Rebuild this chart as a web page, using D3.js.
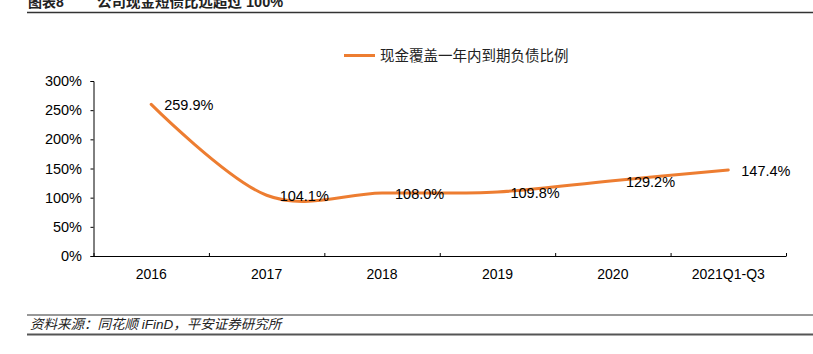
<!DOCTYPE html>
<html><head><meta charset="utf-8">
<script src="https://cdn.jsdelivr.net/npm/d3@7"></script>
<style>
html,body{margin:0;padding:0;background:#fff;}
svg{display:block;}
</style></head>
<body>
<svg id="c" width="813" height="354"></svg>
<script>
const categories = ["2016","2017","2018","2019","2020","2021Q1-Q3"];
const values = [259.9, 104.1, 108.0, 109.8, 129.2, 147.4];
const valueLabels = ["259.9%","104.1%","108.0%","109.8%","129.2%","147.4%"];
const yTicks = [0, 50, 100, 150, 200, 250, 300];
const seriesName = "现金覆盖一年内到期负债比例";
const titleNo = "图表8";
const titleText = "公司现金短债比远超过 100%";
const sourceText = "资料来源：同花顺 iFinD，平安证券研究所";

const svg = d3.select("#c");
const latin = "'Liberation Sans', Arial, sans-serif";
const cjk = "'Liberation Sans', 'Noto Sans CJK SC', sans-serif";
const orange = "#ED7D31";

// header (cut at the top edge as in the reference)
svg.append("text").attr("x", 28).attr("y", 6.5).attr("font-family", cjk).attr("font-weight", "bold")
  .attr("font-size", 14).attr("fill", "#222").text(titleNo);
svg.append("text").attr("x", 97).attr("y", 6.5).attr("font-family", cjk).attr("font-weight", "bold")
  .attr("font-size", 14.5).attr("fill", "#222").text(titleText);
svg.append("line").attr("x1", 27).attr("x2", 813).attr("y1", 12.5).attr("y2", 12.5)
  .attr("stroke", "#333").attr("stroke-width", 1.3);

// footer
svg.append("line").attr("x1", 27).attr("x2", 813).attr("y1", 315).attr("y2", 315)
  .attr("stroke", "#333").attr("stroke-width", 1.2);
svg.append("text").attr("x", 30).attr("y", 329).attr("font-family", cjk).attr("font-style", "italic")
  .attr("font-size", 13.5).attr("fill", "#222").text(sourceText);
svg.append("line").attr("x1", 27).attr("x2", 813).attr("y1", 334.5).attr("y2", 334.5)
  .attr("stroke", "#555").attr("stroke-width", 2);

// scales
const x = d3.scaleBand().domain(categories).range([93.5, 786]);
const y = d3.scaleLinear().domain([0, 300]).range([256, 81]);

// y axis
const yAxis = svg.append("g").attr("transform", "translate(93.5,0)")
  .call(d3.axisLeft(y).tickValues(yTicks).tickSize(3).tickPadding(8.5).tickFormat(d => d + "%"));
yAxis.select(".domain").attr("stroke", "#000").attr("stroke-width", 1);
yAxis.selectAll(".tick line").attr("stroke", "#000");
yAxis.selectAll("text").attr("font-family", latin).attr("font-size", 14.5).attr("fill", "#000");

// x axis
const xAxis = svg.append("g").attr("transform", "translate(0,256)")
  .call(d3.axisBottom(x).tickSize(0).tickPadding(13));
xAxis.select(".domain").attr("stroke", "#000").attr("stroke-width", 1);
xAxis.selectAll("text").attr("font-family", latin).attr("font-size", 14).attr("fill", "#000");
// boundary ticks pointing up
const bounds = categories.map(c => x(c)).concat([x(categories[categories.length-1]) + x.bandwidth()]);
xAxis.selectAll(".btick").data(bounds).enter().append("line")
  .attr("x1", d => d + 0.5).attr("x2", d => d + 0.5).attr("y1", 0).attr("y2", -3)
  .attr("stroke", "#000");

// line
const line = d3.line()
  .x((d, i) => x(categories[i]) + x.bandwidth() / 2)
  .y(d => y(d))
  .curve(d3.curveCardinal.tension(0));
svg.append("path").datum(values).attr("d", line).attr("fill", "none")
  .attr("stroke", orange).attr("stroke-width", 3).attr("stroke-linecap", "round");

// labels
svg.selectAll(".vl").data(values).enter().append("text")
  .attr("x", (d, i) => x(categories[i]) + x.bandwidth() / 2 + 13)
  .attr("y", d => y(d) + 6)
  .attr("font-family", latin).attr("font-size", 14.5).attr("fill", "#000")
  .text((d, i) => valueLabels[i]);

// legend
svg.append("line").attr("x1", 344).attr("x2", 375).attr("y1", 55.5).attr("y2", 55.5)
  .attr("stroke", orange).attr("stroke-width", 3);
svg.append("text").attr("x", 380).attr("y", 61).attr("font-family", "'Noto Sans CJK SC', sans-serif")
  .attr("font-size", 14.5).attr("fill", "#222").text(seriesName);
</script>
</body></html>
